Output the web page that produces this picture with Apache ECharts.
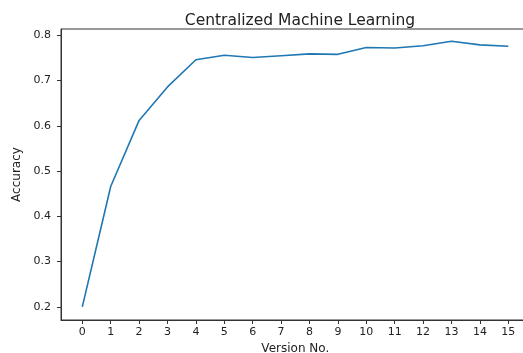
<!DOCTYPE html>
<html><head><meta charset="utf-8">
<script src="https://cdn.jsdelivr.net/npm/echarts@6/dist/echarts.min.js"></script>
<style>html,body{margin:0;padding:0;background:#fff}#c{width:523px;height:353px}</style>
</head><body><div id="c"></div>
<script>
const versions = [0,1,2,3,4,5,6,7,8,9,10,11,12,13,14,15];
const accuracy = [0.200,0.466,0.612,0.686,0.746,0.756,0.751,0.755,0.759,0.758,0.773,0.772,0.777,0.787,0.779,0.776];
const xTicks = [0,1,2,3,4,5,6,7,8,9,10,11,12,13,14,15];
const yTicks = [0.2,0.3,0.4,0.5,0.6,0.7,0.8];

const F = 'DejaVu Sans';
const chart = echarts.init(document.getElementById('c'), null, {renderer:'canvas'});
chart.setOption({
  animation:false,
  title:{text:'Centralized Machine Learning', left:295, textAlign:'center', top:8,
    textStyle:{fontFamily:F, fontSize:15.5, fontWeight:'normal', color:'#222'}},
  grid:{left:61, top:29, width:468.6, height:291, show:true, borderColor:'#333', borderWidth:1,
    containLabel:false, outerBoundsMode:'none'},
  xAxis:{type:'value', min:-0.75, max:15.75,
    name:'Version No.', nameLocation:'middle', nameGap:22,
    nameTextStyle:{fontFamily:F, fontSize:12, color:'#222', verticalAlign:'top'},
    axisLine:{show:true, onZero:false, lineStyle:{color:'#333'}},
    axisTick:{show:true, length:4, customValues:xTicks, lineStyle:{color:'#333'}},
    axisLabel:{customValues:xTicks, margin:7, fontFamily:F, fontSize:11, color:'#222'},
    splitLine:{show:false}},
  yAxis:{type:'value', min:0.171, max:0.814,
    name:'Accuracy', nameLocation:'middle', nameGap:38, nameRotate:90,
    nameTextStyle:{fontFamily:F, fontSize:12, color:'#222'},
    axisLine:{show:true, onZero:false, lineStyle:{color:'#333'}},
    axisTick:{show:true, length:4, customValues:yTicks, lineStyle:{color:'#333'}},
    axisLabel:{customValues:yTicks, margin:10, fontFamily:F, fontSize:11, color:'#222',
      formatter:v=>v.toFixed(1)},
    splitLine:{show:false}},
  series:[{type:'line', data:versions.map((v,i)=>[v,accuracy[i]]), showSymbol:false,
    lineStyle:{color:'#1f77b4', width:1.6}, itemStyle:{color:'#1f77b4'}}]
});
</script></body></html>
